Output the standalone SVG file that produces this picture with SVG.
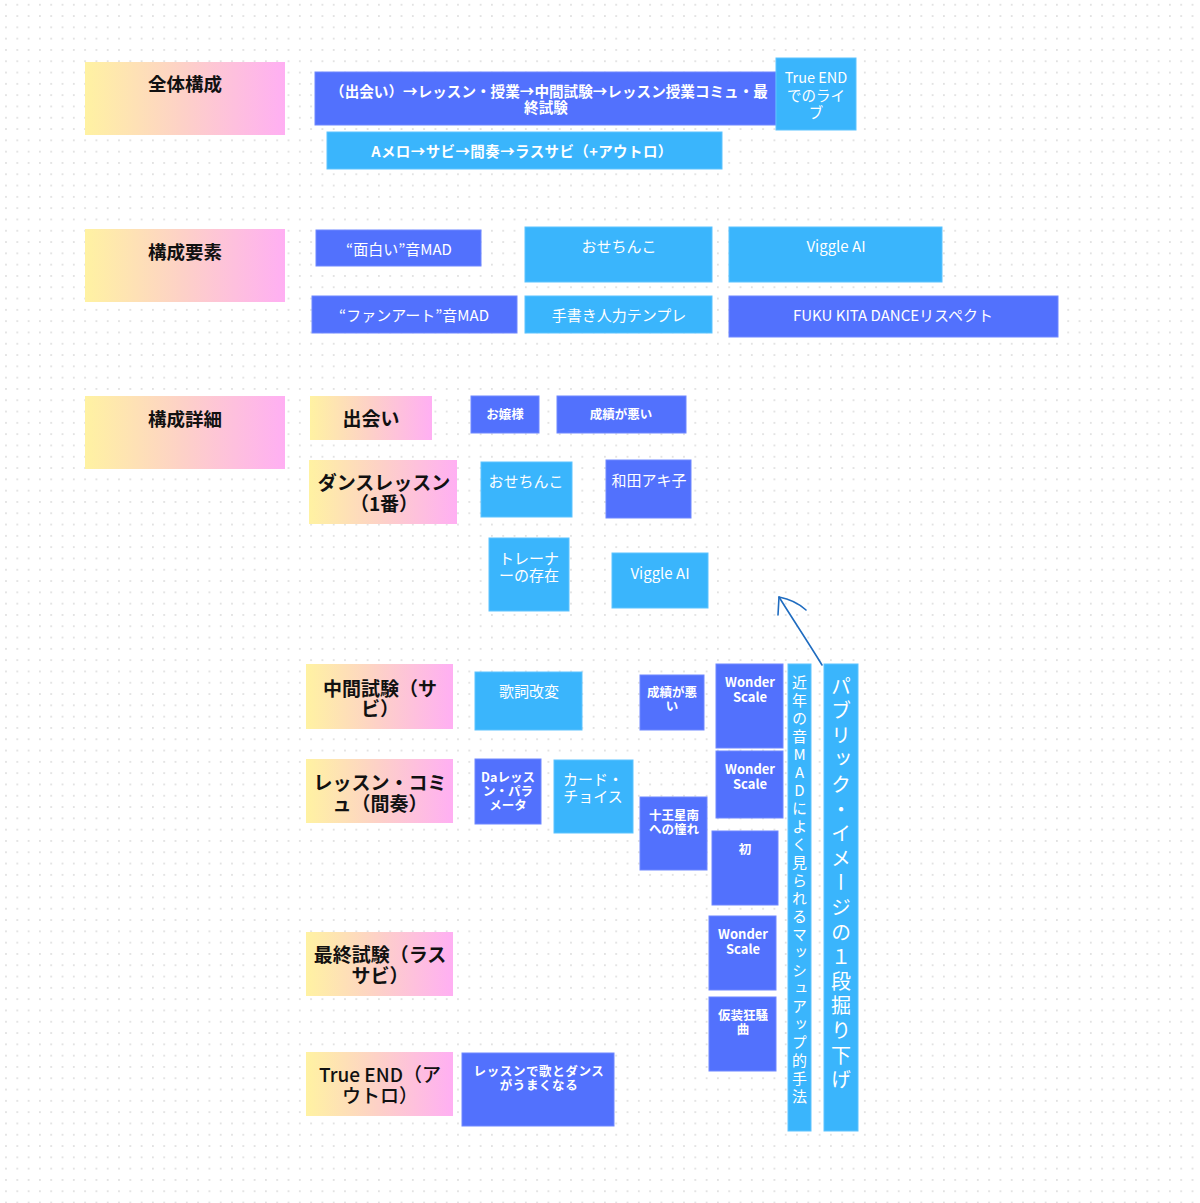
<svg xmlns="http://www.w3.org/2000/svg" width="1200" height="1203" viewBox="0 0 1200 1203">
<defs>
<pattern id="dots" patternUnits="userSpaceOnUse" x="0.4" y="-0.9" width="11.3" height="11.3">
<circle cx="5.6" cy="5.6" r="1" fill="#dcdcdc"/>
</pattern>
<linearGradient id="grad" x1="0" y1="0" x2="1" y2="0">
<stop offset="0" stop-color="#fff2a2"/>
<stop offset="0.5" stop-color="#fdd0c8"/>
<stop offset="1" stop-color="#ffaff3"/>
</linearGradient>
<style>
text{font-family:"Noto Sans CJK JP","Noto Sans",sans-serif;dominant-baseline:central;text-anchor:middle;}
.g{fill:url(#grad);}
.d{fill:#5271fd;stroke:#6f88ff;stroke-width:1;}
.l{fill:#3ab5fc;stroke:#5cc3ff;stroke-width:1;}
.h{font-size:18.5px;font-weight:700;fill:#111;}
.s{font-size:19px;font-weight:700;fill:#111;}
.w{fill:#fff;font-size:15px;}
.wb{fill:#fff;font-size:12.5px;font-weight:700;}
.ws{fill:#fff;font-size:13px;font-weight:700;}
.conn{fill:none;stroke:#1f6cc0;stroke-width:1.6;stroke-linecap:round;stroke-linejoin:round;}
</style>
</defs>
<rect width="1200" height="1203" fill="#fff"/>
<rect width="1200" height="1203" fill="url(#dots)"/>

<g id="sec-zentai"><rect class="g" x="85" y="62" width="200" height="73"/><text class="h" x="185" y="83">全体構成</text></g>
<g id="sec-yoso"><rect class="g" x="85" y="229" width="200" height="73"/><text class="h" x="185" y="251">構成要素</text></g>
<g id="sec-shosai"><rect class="g" x="85" y="396" width="200" height="73"/><text class="h" x="185" y="418">構成詳細</text></g>

<g id="n-flow"><rect class="d" x="315" y="72" width="461" height="53"/>
<text class="w" style="font-weight:700;font-size:14.6px"><tspan x="549" y="90">（出会い）→レッスン・授業→中間試験→レッスン授業コミュ・最</tspan><tspan x="546" y="106">終試験</tspan></text></g>
<g id="n-trueend-live"><rect class="l" x="776" y="58" width="80" height="72"/>
<text class="w" style="font-size:14.5px"><tspan x="816" y="76">True END</tspan><tspan x="816" y="94">でのライ</tspan><tspan x="816" y="111">ブ</tspan></text></g>
<g id="n-amelo"><rect class="l" x="327" y="132" width="395" height="37"/>
<text class="w" x="522" y="150" style="font-weight:700;font-size:14.5px;letter-spacing:0.4px">Aメロ→サビ→間奏→ラスサビ（+アウトロ）</text></g>

<g id="n-omoshiroi"><rect class="d" x="316" y="230" width="165" height="36"/><text class="w" x="399" y="248">“面白い”音MAD</text></g>
<g id="n-osechinko1"><rect class="l" x="525" y="227" width="187" height="55"/><text class="w" x="619" y="245">おせちんこ</text></g>
<g id="n-viggle1"><rect class="l" x="729" y="227" width="213" height="55"/><text class="w" x="836" y="245">Viggle AI</text></g>
<g id="n-fanart"><rect class="d" x="312" y="296" width="205" height="37"/><text class="w" x="414" y="314">“ファンアート”音MAD</text></g>
<g id="n-tegaki"><rect class="l" x="525" y="296" width="187" height="37"/><text class="w" x="619" y="314">手書き人力テンプレ</text></g>
<g id="n-fukukita"><rect class="d" x="729" y="296" width="329" height="41"/><text class="w" x="893" y="314">FUKU KITA DANCEリスペクト</text></g>

<g id="n-deai"><rect class="g" x="310" y="396" width="122" height="44"/><text class="s" x="371" y="417">出会い</text></g>
<g id="n-ojosama"><rect class="d" x="471" y="396" width="68" height="37"/><text class="wb" x="505" y="413">お嬢様</text></g>
<g id="n-seiseki1"><rect class="d" x="557" y="396" width="129" height="37"/><text class="wb" x="621" y="413">成績が悪い</text></g>
<g id="n-dance"><rect class="g" x="309" y="460" width="148" height="64"/><text class="s"><tspan x="384" y="481">ダンスレッスン</tspan><tspan x="384" y="502">（1番）</tspan></text></g>
<g id="n-osechinko2"><rect class="l" x="481" y="462" width="91" height="55"/><text class="w" x="526" y="480">おせちんこ</text></g>
<g id="n-wada"><rect class="d" x="606" y="460" width="85" height="58"/><text class="w" x="649" y="479">和田アキ子</text></g>
<g id="n-trainer"><rect class="l" x="489" y="538" width="80" height="73"/><text class="w"><tspan x="529" y="557">トレーナ</tspan><tspan x="529" y="574">ーの存在</tspan></text></g>
<g id="n-viggle2"><rect class="l" x="612" y="553" width="96" height="55"/><text class="w" x="660" y="572">Viggle AI</text></g>

<g id="n-chukan"><rect class="g" x="306" y="664" width="147" height="65"/><text class="s"><tspan x="380" y="687">中間試験（サ</tspan><tspan x="380" y="707">ビ）</tspan></text></g>
<g id="n-kashi"><rect class="l" x="475" y="672" width="107" height="58"/><text class="w" x="529" y="690">歌詞改変</text></g>
<g id="n-seiseki2"><rect class="d" x="640" y="675" width="64" height="55"/><text class="wb"><tspan x="672" y="691">成績が悪</tspan><tspan x="672" y="705">い</tspan></text></g>
<g id="n-wonder1"><rect class="d" x="716" y="664" width="67" height="84"/><text class="ws"><tspan x="750" y="681">Wonder</tspan><tspan x="750" y="696">Scale</tspan></text></g>
<g id="n-lesson"><rect class="g" x="306" y="759" width="147" height="64"/><text class="s"><tspan x="380" y="781">レッスン・コミ</tspan><tspan x="380" y="802">ュ（間奏）</tspan></text></g>
<g id="n-dalesson"><rect class="d" x="475" y="759" width="66" height="65"/><text class="wb"><tspan x="508" y="776">Daレッス</tspan><tspan x="508" y="790">ン・パラ</tspan><tspan x="508" y="804">メータ</tspan></text></g>
<g id="n-card"><rect class="l" x="554" y="760" width="79" height="73"/><text class="w"><tspan x="593" y="778">カード・</tspan><tspan x="593" y="795">チョイス</tspan></text></g>
<g id="n-juo"><rect class="d" x="640" y="797" width="67" height="73"/><text class="wb"><tspan x="674" y="814">十王星南</tspan><tspan x="674" y="828">への憧れ</tspan></text></g>
<g id="n-wonder2"><rect class="d" x="716" y="751" width="67" height="67"/><text class="ws"><tspan x="750" y="768">Wonder</tspan><tspan x="750" y="783">Scale</tspan></text></g>
<g id="n-hatsu"><rect class="d" x="712" y="831" width="66" height="74"/><text class="wb" x="745" y="848">初</text></g>
<g id="n-saishu"><rect class="g" x="306" y="932" width="147" height="64"/><text class="s"><tspan x="380" y="953">最終試験（ラス</tspan><tspan x="380" y="974">サビ）</tspan></text></g>
<g id="n-wonder3"><rect class="d" x="709" y="916" width="67" height="74"/><text class="ws"><tspan x="743" y="933">Wonder</tspan><tspan x="743" y="948">Scale</tspan></text></g>
<g id="n-kaso"><rect class="d" x="709" y="997" width="67" height="74"/><text class="wb"><tspan x="743" y="1014">仮装狂騒</tspan><tspan x="743" y="1028">曲</tspan></text></g>
<g id="n-trueend"><rect class="g" x="306" y="1052" width="147" height="64"/><text class="s" style="font-weight:500"><tspan x="380" y="1073">True END（ア</tspan><tspan x="380" y="1094">ウトロ）</tspan></text></g>
<g id="n-umaku"><rect class="d" x="462" y="1053" width="152" height="73"/><text class="wb" style="letter-spacing:0.6px"><tspan x="539" y="1070">レッスンで歌とダンス</tspan><tspan x="539" y="1084">がうまくなる</tspan></text></g>

<g id="n-mashup"><rect class="l" x="788" y="664" width="23" height="467"/>
<text x="799.5" y="675" writing-mode="vertical-rl" style="fill:#fff;font-size:15px;letter-spacing:3px;text-anchor:start;text-orientation:upright">近年の音MADによく見られるマッシュアップ的手法</text></g>
<g id="n-public"><rect class="l" x="824" y="664" width="34" height="467"/>
<text x="841" y="676" writing-mode="vertical-rl" style="fill:#fff;font-size:20px;letter-spacing:4.6px;text-anchor:start;text-orientation:upright">パブリック・イメージの１段掘り下げ</text></g>

<g id="connectors">
<path class="conn" d="M822 665 C808 642 792 618 779 597"/>
<path class="conn" d="M778 615 L779 597 Q795 600 806 610"/>
</g>
</svg>
